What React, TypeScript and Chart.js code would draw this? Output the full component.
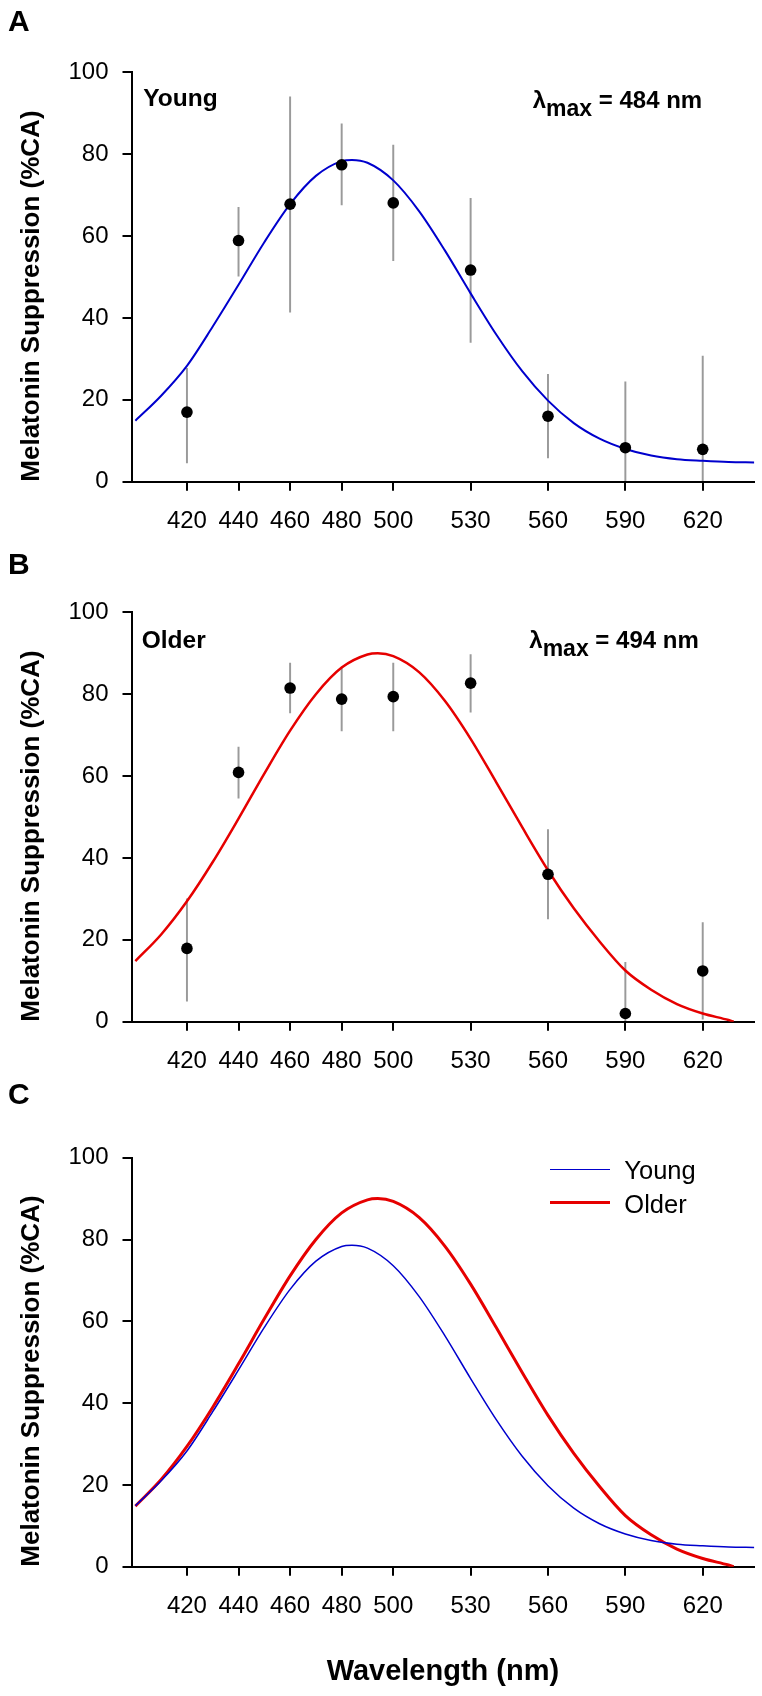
import React, { useEffect, useRef } from "react";
import { Chart, registerables } from "chart.js";

Chart.register(...registerables);

// ---------- data ----------
const wavelengths = [420, 440, 460, 480, 500, 530, 560, 590, 620];
const xTickValues = [420, 440, 460, 480, 500, 530, 560, 590, 620];

const youngMean = [17.0, 58.9, 67.8, 77.4, 68.1, 51.7, 16.0, 8.3, 7.9];
const youngLow = [4.6, 50.2, 41.4, 67.6, 54.0, 34.0, 5.8, 0, 0];
const youngHigh = [27.7, 67.0, 94.0, 87.4, 82.2, 69.2, 26.2, 24.4, 30.7];

const olderMean = [17.9, 60.9, 81.5, 78.8, 79.4, 82.7, 36.0, 2.0, 12.4];
const olderLow = [5.0, 54.6, 75.4, 71.0, 71.0, 75.6, 25.1, 0, 0.6];
const olderHigh = [30.0, 67.1, 87.6, 86.3, 87.6, 89.7, 46.9, 14.5, 24.2];

const youngFitX = [400, 410, 420, 430, 440, 450, 460, 470, 480, 484, 490, 500, 510, 520, 530, 540, 550, 560, 570, 580, 590, 600, 610, 620, 630, 640];
const youngFitY = [14.9, 21.0, 28.3, 37.9, 48.1, 58.5, 67.8, 74.7, 78.3, 78.6, 77.9, 73.6, 66.1, 56.5, 46.0, 35.9, 27.0, 19.8, 14.3, 10.5, 8.0, 6.4, 5.5, 5.1, 4.8, 4.7];

const olderFitX = [400, 410, 420, 430, 440, 450, 460, 470, 480, 490, 494, 500, 510, 520, 530, 540, 550, 560, 570, 580, 590, 600, 610, 620, 630, 632];
const olderFitY = [14.8, 21.3, 29.4, 39.0, 49.6, 60.6, 71.1, 80.0, 86.5, 89.7, 90.0, 89.3, 85.4, 78.4, 69.1, 58.4, 47.5, 37.0, 27.7, 19.6, 12.5, 7.8, 4.3, 2.0, 0.4, 0];

const BLUE = "#0000cd";
const RED = "#e60000";
const FONT = "'Liberation Sans', Arial, Helvetica, sans-serif";

Chart.defaults.font.family = FONT;
Chart.defaults.color = "#000";

function fitData(xs: number[], ys: number[]) {
  return xs.map((x, i) => ({ x, y: ys[i] }));
}

function pointData(ys: number[]) {
  return wavelengths.map((x, i) => ({ x, y: ys[i] }));
}

function errData(lo: number[], hi: number[]) {
  return wavelengths.map((x, i) => ({ x, y: [lo[i], hi[i]] }));
}

function makeOptions(h: number, chartTop: number, chartBottom: number, xTitle: boolean): any {
  return {
    responsive: false,
    animation: false,
    events: [],
    layout: { padding: { top: chartTop, right: 7.7, left: 0, bottom: 0 } },
    plugins: { legend: { display: false }, tooltip: { enabled: false } },
    scales: {
      x: {
        type: "linear",
        min: 398.5,
        max: 640,
        offset: false,
        afterBuildTicks: (s: any) => {
          s.ticks = xTickValues.map((v) => ({ value: v }));
        },
        afterFit: (s: any) => {
          s.height = h - chartBottom;
        },
        grid: {
          display: true,
          drawOnChartArea: false,
          drawTicks: true,
          tickLength: 9,
          color: "#000",
          lineWidth: 2,
          offset: false,
        },
        border: { display: true, color: "#000", width: 2 },
        ticks: { color: "#000", font: { size: 24 }, padding: 16, maxRotation: 0, autoSkip: false },
        title: {
          display: xTitle,
          text: "Wavelength (nm)",
          color: "#000",
          font: { size: 29, weight: "bold" },
          padding: { top: 0, bottom: 7 },
        },
      },
      y: {
        type: "linear",
        min: 0,
        max: 100,
        ticks: { stepSize: 20, color: "#000", font: { size: 24 }, padding: 14 },
        afterFit: (s: any) => {
          s.width = 131.5;
        },
        grid: { drawOnChartArea: false, tickLength: 9, color: "#000", lineWidth: 2 },
        border: { display: true, color: "#000", width: 2 },
        title: {
          display: true,
          text: "Melatonin Suppression (%CA)",
          align: "start",
          color: "#000",
          font: { size: 26, weight: "bold" },
          padding: { top: 16, bottom: 0 },
        },
      },
    },
  };
}

function errorBarDataset(lo: number[], hi: number[]) {
  return {
    type: "bar",
    data: errData(lo, hi),
    backgroundColor: "#9a9a9a",
    borderWidth: 0,
    barThickness: 1.3,
    grouped: false,
    order: 3,
  };
}

function pointsDataset(ys: number[]) {
  return {
    type: "scatter",
    data: pointData(ys),
    showLine: false,
    pointRadius: 5.8,
    pointBackgroundColor: "#000",
    pointBorderColor: "#000",
    pointBorderWidth: 0,
    order: 0,
  };
}

function curveDataset(xs: number[], ys: number[], color: string, width: number, order: number) {
  return {
    type: "line",
    data: fitData(xs, ys),
    borderColor: color,
    backgroundColor: color,
    borderWidth: width,
    pointRadius: 0,
    fill: false,
    cubicInterpolationMode: "monotone",
    order,
  };
}

type PanelProps = {
  top: number;
  height: number;
  chartTop: number;
  chartBottom: number;
  xTitle: boolean;
  datasets: any[];
};

function Panel({ top, height, chartTop, chartBottom, xTitle, datasets }: PanelProps) {
  const ref = useRef<HTMLCanvasElement | null>(null);
  useEffect(() => {
    if (!ref.current) return;
    const chart = new Chart(ref.current, {
      type: "scatter",
      data: { datasets },
      options: makeOptions(height, chartTop, chartBottom, xTitle),
    } as any);
    return () => chart.destroy();
  }, []);
  return (
    <canvas
      ref={ref}
      width={762}
      height={height}
      style={{ position: "absolute", left: 0, top, width: 762, height, display: "block" }}
    />
  );
}

const textBase: React.CSSProperties = {
  position: "absolute",
  fontFamily: FONT,
  lineHeight: 1,
  whiteSpace: "nowrap",
  color: "#000",
  margin: 0,
};

function Label({ left, baseline, size, bold, children }: any) {
  return (
    <div
      style={{
        ...textBase,
        left,
        top: baseline - 0.8465 * size,
        fontSize: size,
        fontWeight: bold ? "bold" : "normal",
      }}
    >
      {children}
    </div>
  );
}

function LambdaMax({ left, baseline, value }: { left: number; baseline: number; value: string }) {
  return (
    <Label left={left} baseline={baseline} size={24} bold>
      λ<span style={{ fontSize: 23, position: "relative", top: 8 }}>max</span> = {value}
    </Label>
  );
}

export default function App() {
  const dsA = [
    pointsDataset(youngMean),
    curveDataset(youngFitX, youngFitY, BLUE, 2, 1),
    errorBarDataset(youngLow, youngHigh),
  ];
  const dsB = [
    pointsDataset(olderMean),
    curveDataset(olderFitX, olderFitY, RED, 2.5, 1),
    errorBarDataset(olderLow, olderHigh),
  ];
  const dsC = [
    curveDataset(youngFitX, youngFitY, BLUE, 1.5, 0),
    curveDataset(olderFitX, olderFitY, RED, 3, 1),
  ];

  return (
    <div
      style={{
        position: "absolute",
        left: 0,
        top: 0,
        width: 762,
        height: 1696,
        background: "#fff",
        overflow: "hidden",
      }}
    >
      <Panel top={0} height={540} chartTop={72.3} chartBottom={481.7} xTitle={false} datasets={dsA} />
      <Panel top={540} height={545} chartTop={72.3} chartBottom={481.7} xTitle={false} datasets={dsB} />
      <Panel top={1085} height={611} chartTop={72.7} chartBottom={481.7} xTitle={true} datasets={dsC} />

      <Label left={8} baseline={31} size={30} bold>A</Label>
      <Label left={8} baseline={574} size={30} bold>B</Label>
      <Label left={8} baseline={1104} size={30} bold>C</Label>

      <Label left={143.3} baseline={106.3} size={24.5} bold>Young</Label>
      <Label left={141.7} baseline={648.3} size={24.5} bold>Older</Label>

      <LambdaMax left={532.7} baseline={108.3} value="484 nm" />
      <LambdaMax left={529.3} baseline={648.3} value="494 nm" />

      <div style={{ position: "absolute", left: 550, top: 1168.5, width: 60, height: 1.6, background: BLUE }} />
      <div style={{ position: "absolute", left: 550, top: 1201.2, width: 60, height: 3, background: RED }} />
      <Label left={624.3} baseline={1179.3} size={25.5}>Young</Label>
      <Label left={624.3} baseline={1214} size={25.5}>Older</Label>
    </div>
  );
}
